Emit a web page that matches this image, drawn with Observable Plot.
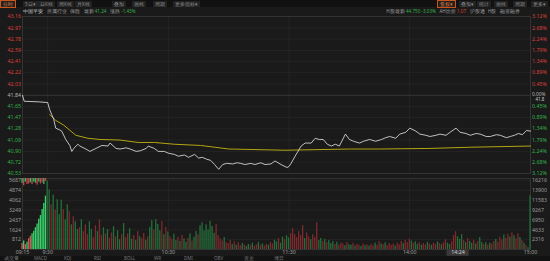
<!DOCTYPE html>
<html><head><meta charset="utf-8">
<script src="https://cdn.jsdelivr.net/npm/d3@7"></script>
<script src="https://cdn.jsdelivr.net/npm/@observablehq/plot@0.6"></script>
<style>
html,body{margin:0;padding:0;background:#1a1a1a;width:550px;height:261px;overflow:hidden;font-family:"Noto Sans",sans-serif;}
.abs{position:absolute;}
#bar{left:0;top:0;width:550px;height:7px;background:#111;}
.btn{position:absolute;top:0.5px;height:6px;line-height:6px;font-size:4.6px;color:#8a8a8a;background:#222;padding:0 2px;white-space:nowrap;}
.btn.on{border:0.6px solid #c8561c;color:#e07a3a;top:0;}
.info{top:7.5px;height:6px;font-size:4.6px;line-height:6px;color:#9a9a9a;white-space:nowrap;display:flex;gap:3.5px;}
#foot{left:0;top:256px;width:550px;height:5px;background:#121212;font-size:4.5px;line-height:5px;color:#777;white-space:nowrap;}
#foot span{position:absolute;top:0;}
svg{overflow:visible;}
</style></head>
<body>
<div id="bar" class="abs"></div>
<div id="infoL" class="abs info" style="left:23px;"></div>
<div id="infoR" class="abs info" style="right:30px;"></div>
<div id="pricePanel" class="abs" style="left:0;top:14px;"></div>
<div id="volPanel" class="abs" style="left:0;top:177px;"></div>
<div id="foot" class="abs"></div>
<script>
// ---------- data ----------
const stockName = "中国平安";
const prevClose = 41.84;
const priceTickValues = [43.16, 42.97, 42.78, 42.59, 42.41, 42.22, 42.03, 41.84, 41.65, 41.47, 41.28, 41.09, 40.90, 40.72, 40.53];
const pctTickLabels = ["3.12%","2.68%","2.24%","1.79%","1.34%","0.89%","0.45%","0.00%","0.45%","0.89%","1.34%","1.79%","2.24%","2.68%","3.12%"];

const priceTimes = ["09:15","09:16","09:25","09:29","09:30","09:31","09:32","09:33","09:34","09:36","09:37","09:39","09:41","09:42","09:43","09:45","09:46","09:49","09:51","09:54","09:57","10:00","10:01","10:04","10:06","10:09","10:11","10:14","10:16","10:19","10:20","10:23","10:25","10:28","10:30","10:33","10:35","10:38","10:40","10:43","10:45","10:47","10:49","10:51","10:53","10:55","10:57","10:59","11:02","11:04","11:06","11:08","11:11","11:13","11:16","11:18","11:21","11:23","11:26","11:29","11:30","13:01","13:03","13:06","13:08","13:11","13:13","13:15","13:17","13:19","13:21","13:23","13:25","13:28","13:30","13:32","13:35","13:37","13:40","13:43","13:46","13:48","13:50","13:53","13:55","13:58","14:00","14:03","14:05","14:08","14:10","14:13","14:15","14:18","14:20","14:23","14:25","14:28","14:30","14:33","14:35","14:38","14:40","14:43","14:45","14:48","14:50","14:52","14:54","14:56","14:58","15:00"];
const priceValues = [41.84,41.74,41.73,41.72,41.72,41.60,41.52,41.44,41.29,41.26,41.24,41.10,41.00,40.90,40.95,41.02,40.99,40.94,40.90,40.95,41.00,40.99,41.04,40.95,40.94,40.96,40.94,40.90,40.91,40.95,40.99,40.95,40.90,40.90,40.87,40.85,40.82,40.84,40.80,40.85,40.79,40.80,40.77,40.75,40.68,40.60,40.68,40.70,40.69,40.71,40.70,40.68,40.70,40.68,40.71,40.68,40.69,40.74,40.68,40.63,40.65,40.70,40.82,40.99,41.04,41.04,41.12,41.10,41.10,41.02,40.99,41.02,40.99,41.19,41.10,41.07,41.04,41.07,41.10,41.07,41.10,41.13,41.15,41.12,41.19,41.22,41.29,41.24,41.19,41.17,41.15,41.17,41.19,41.17,41.22,41.29,41.22,41.20,41.17,41.20,41.19,41.15,41.15,41.18,41.17,41.13,41.15,41.17,41.20,41.18,41.25,41.24];

const avgTimes = ["09:31","09:34","09:38","09:44","09:50","09:56","10:06","10:15","10:23","10:33","10:46","10:53","11:00","11:28","13:30","13:45","14:10","14:30","15:00"];
const avgValues = [41.52,41.42,41.34,41.17,41.12,41.10,41.09,41.05,41.05,41.02,41.00,40.97,40.94,40.92,40.94,40.94,40.95,40.97,40.99];

// volume (shares x100), one per minute: morning 09:30..11:30, afternoon 13:01..15:00
const volMorning = [16100,14000,10500,12800,9300,11700,8200,11600,9400,7000,
 10500,8900,5800,7700,6500,4700,5100,7000,4200,5800,
 3500,6500,4700,2800,5600,4200,7000,3300,5100,3700,
 4700,2600,3900,5400,3000,4400,2300,3500,6100,2800,
 3700,4900,2400,3300,2100,4200,3000,2600,3800,2200,
 3000,5200,6800,4600,7000,5900,4400,6600,3500,5200,
 4100,3000,2400,3600,2100,2800,1900,3300,2500,1700,
 2600,3700,2000,2900,4200,3500,5600,6300,4400,5800,
 4600,6600,5400,3800,5900,3300,2500,2000,2800,1600,
 1400,2100,1200,1800,1000,1600,900,1400,1100,700,
 1200,900,1500,800,1100,1700,1000,1300,800,1200,
 1000,1600,1300,2200,1800,2600,1500,2900,2300,3200,
 2700];
const volAfternoon = [3700,4900,3500,2800,4200,3300,5600,2600,3900,3000,
 2300,3500,2800,6300,2100,2600,1900,2400,1600,2100,
 1400,1900,1200,1700,1000,1500,1300,900,1600,1100,
 1000,1400,800,1200,1000,700,1300,900,1100,800,
 1200,900,1500,1000,1800,1300,1100,1600,900,1400,
 1000,1300,800,1500,1100,1900,1400,2100,1600,2400,
 2000,1500,1800,1200,1600,1000,1400,1100,1700,1300,
 1000,1500,1200,1800,1400,1100,1600,2300,1500,1200,
 1800,3300,4200,3000,2400,3500,2100,1600,2600,1900,
 1500,2200,1300,1900,2800,1700,1200,1600,1000,1500,
 1300,1900,2400,1700,2900,2300,3400,2600,3600,2900,
 3900,3200,2500,3700,2800,2100,1500,900,400,12600];
const dirMorning = "ggrgrgggrg"+"grgrggrgrr"+"rggrrgrrgr"+"grrgrggrgr"+"rggrgrgrrg"+"rggrgggrgr"+"grrggrgrgg"+"rgrggrgggg"+"ggggrrrrgr"+"rrgrgrrgrg"+"grgrrgrgrr"+"grrggrggrg"+"g";
const dirAfternoon = "rrrrrrrgrr"+"grrrggrgrg"+"ggrgrrrgrg"+"grgrrgrgrg"+"rrgrrgrgrr"+"rrgrrrgrrr"+"grggrgrrgr"+"grrgrgrrgg"+"rrrgggrgrg"+"grgrggrgrg"+"rrgrrrgrrg"+"rgrrgrgrgg";

// call auction 09:15..09:29 (left axis units)
const auctionTimes = ["09:15","09:16","09:17","09:18","09:19","09:20","09:21","09:22","09:23","09:24","09:25","09:26","09:27","09:28","09:29"];
const auctionMatched = [500,700,400,600,900,1100,1300,1500,1800,2100,2500,2800,3300,3800,4400];
const auctionMatchedDir = "rgrgrrggggggggg";
const auctionUnmatched = [400,600,300,500,450,350,500,300,400,550,300,450,350,500,250];
const auctionUnmatchedDir = "grgrrgrggrgrrgr";

const volTicksRight = [2316, 4633, 6950, 9267, 11583, 13900, 16216];
const volTicksLeft = [812, 1624, 2437, 3249, 4062, 4874, 5687];
const timeLabelTimes = ["09:15","09:30","10:30","11:30","14:00","15:00"];
const timeLabelTexts = ["09:15","9:30","10:30","11:30","14:00","15:00"];
const gridTimes = ["09:30","10:30","11:30","14:00"];
const cursorTime = "14:24";

const toolbarLeft = ["分时","5日▾","日K线","周K线","月K线","叠加","画线","周期","更多指标▾"];
const toolbarLeftX = [0,23,38,57,75,112,132,153,173];
const toolbarRight = ["复权▾","叠加▾","统计","画线","周期","更多▾"];
const toolbarRightX = [437,459,477,494,513,531];
const footTabs = ["成交量","MACD","KDJ","RSI","BOLL","WR","DMI","OBV","资金","博弈"];

// ---------- helpers ----------
function idx(t){
  const [h,m] = t.split(":").map(Number);
  const mins = h*60+m;
  if (mins < 570) return (mins-570)*12.5/15;
  if (mins <= 690) return mins-570;
  return mins-780+120;
}
const RED = "#d9403c", GREEN = "#34b04a", GREY = "#b8b8b8";
const W = 550, ML = 22, MR = 20;

// ---------- header ----------
const bar = document.getElementById("bar");
toolbarLeft.forEach((t,i)=>{const s=document.createElement("div");s.className="btn"+(i===0?" on":"");s.style.left=toolbarLeftX[i]+"px";s.textContent=t;bar.appendChild(s);});
toolbarRight.forEach((t,i)=>{const s=document.createElement("div");s.className="btn"+(i===0?" on":"");s.style.left=toolbarRightX[i]+"px";s.textContent=t;bar.appendChild(s);});
const lastPrice = priceValues[priceValues.length-1];
const chg = (lastPrice/prevClose-1)*100;
const infoLeft = [[stockName, "#c8c8c8"],["所属行业","#9a9a9a"],["保险","#9a9a9a"],["最新 <b style='font-weight:normal;color:"+GREEN+"'>"+lastPrice.toFixed(2)+"</b>","#9a9a9a"],["涨跌 <b style='font-weight:normal;color:"+GREEN+"'>"+chg.toFixed(2)+"%</b>","#9a9a9a"]];
const infoRight = [["H股最新 <b style='font-weight:normal;color:"+GREEN+"'>44.750 -3.03%</b>","#9a9a9a"],["AH比价 <b style='font-weight:normal;color:"+RED+"'>1.07</b>","#9a9a9a"],["沪股通","#9a9a9a"],["H股","#9a9a9a"],["融资融券","#9a9a9a"]];
function fill(id, items){const el=document.getElementById(id);items.forEach(([h,c])=>{const s=document.createElement("span");s.style.color=c;s.innerHTML=h;el.appendChild(s);});}
fill("infoL", infoLeft); fill("infoR", infoRight);
const foot = document.getElementById("foot");
footTabs.forEach((t,i)=>{const s=document.createElement("span");s.style.left=(4+i*30)+"px";s.textContent=t;foot.appendChild(s);});

// ---------- price panel ----------
const priceRows = priceTimes.map((t,i)=>({x:idx(t), v:priceValues[i]}));
const avgRows = avgTimes.map((t,i)=>({x:idx(t), v:avgValues[i]}));
const tickRows = priceTickValues.map((v,i)=>({v, label:v.toFixed(2), pct:pctTickLabels[i],
  c: v > prevClose + 0.001 ? RED : (v < prevClose - 0.001 ? GREEN : GREY),
  dy: Math.abs(v-prevClose) < 0.001 ? -1 : 0}));
const gridIdx = gridTimes.map(idx);

const pricePlot = Plot.plot({
  width: W, height: 163, marginTop: 2, marginBottom: 4, marginLeft: ML, marginRight: MR,
  x: {domain: [-12.5, 240], axis: null},
  y: {domain: [40.53, 43.16], axis: null},
  style: {background: "transparent", fontFamily: "Noto Sans, sans-serif", overflow: "visible"},
  marks: [
    Plot.ruleY(priceTickValues, {stroke: "#282828", strokeWidth: 0.7}),
    Plot.ruleX(gridIdx, {stroke: "#282828", strokeWidth: 0.7}),
    Plot.ruleY([prevClose], {stroke: "#3a3a3a", strokeWidth: 0.8}),
    Plot.frame({stroke: "#333"}),
    Plot.line(avgRows, {x: "x", y: "v", stroke: "#b3a512", strokeWidth: 1}),
    Plot.line(priceRows, {x: "x", y: "v", stroke: "#d2d2d2", strokeWidth: 0.9}),
    Plot.text(tickRows, {y: "v", text: "label", frameAnchor: "left", textAnchor: "end", dx: -1.5, fill: "c", fontSize: 5.3}),
    Plot.text(tickRows.filter(d => d.dy === 0), {y: "v", text: "pct", frameAnchor: "right", textAnchor: "start", dx: 1.5, fill: "c", fontSize: 5.3}),
    Plot.text(tickRows.filter(d => d.dy !== 0), {y: "v", text: "pct", frameAnchor: "right", textAnchor: "start", dx: 1.5, dy: -1.2, fill: "c", fontSize: 4.8}),
    Plot.text([prevClose], {y: d => d, text: d => "41.8", frameAnchor: "right", textAnchor: "start", dx: 5, dy: 4.6, fill: "#cfcfcf", fontSize: 4.4})
  ]
});
document.getElementById("pricePanel").appendChild(pricePlot);

// ---------- volume panel ----------
const ratio = volTicksRight[6] / volTicksLeft[6];
const UP = "#7e2a2e", DOWN = "#24703a";
const volRows = [
  ...volMorning.map((v,i)=>({x:i, v, c: dirMorning[i]==="r" ? UP : DOWN})),
  ...volAfternoon.map((v,i)=>({x:121+i, v, c: dirAfternoon[i]==="r" ? UP : DOWN}))
];
const aucRows = auctionTimes.map((t,i)=>({x:idx(t), v:auctionMatched[i]*ratio, c: auctionMatchedDir[i]==="r" ? "#e0505a" : "#3ad06a"}));
const aucTop = 16700;
const aucHang = auctionTimes.map((t,i)=>({x:idx(t), v:auctionUnmatched[i]*ratio, c: auctionUnmatchedDir[i]==="r" ? "#c94450" : "#2fbf5e"}));
const timeRows = timeLabelTimes.map((t,i)=>({x:idx(t), text:timeLabelTexts[i]}));
const cur = idx(cursorTime);

const volPlot = Plot.plot({
  width: W, height: 84, marginTop: 1, marginBottom: 12, marginLeft: ML, marginRight: MR,
  x: {domain: [-12.5, 240], axis: null},
  y: {domain: [0, 16700], axis: null},
  style: {background: "transparent", fontFamily: "Noto Sans, sans-serif", overflow: "visible"},
  marks: [
    Plot.ruleY(volTicksRight, {stroke: "#282828", strokeWidth: 0.7}),
    Plot.ruleX(gridIdx, {stroke: "#282828", strokeWidth: 0.7}),
    Plot.frame({stroke: "#333"}),
    Plot.rect(aucRows, {x1: d => d.x - 0.33, x2: d => d.x + 0.33, y1: d => 0, y2: "v", fill: "c"}),
    Plot.rect(aucHang, {x1: d => d.x - 0.33, x2: d => d.x + 0.33, y1: d => aucTop, y2: d => aucTop - d.v, fill: "c"}),
    Plot.rect(volRows, {x1: d => d.x - 0.32, x2: d => d.x + 0.32, y1: d => 0, y2: "v", fill: "c"}),
    Plot.text(volTicksLeft, {y: d => d*ratio, text: d => String(d), frameAnchor: "left", textAnchor: "end", dx: -1.5, fill: "#9a9a9a", fontSize: 5.3}),
    Plot.text(volTicksRight, {y: d => d, text: d => String(d), frameAnchor: "right", textAnchor: "start", dx: 1.5, fill: "#9a9a9a", fontSize: 5.3}),
    Plot.rect([cur], {x1: d => d - 5.5, x2: d => d + 5.5, y1: d => -240, y2: d => -1600, fill: "#3a3a3a"}),
    Plot.text(timeRows, {x: "x", text: "text", frameAnchor: "bottom", dy: 4.5, fill: "#9a9a9a", fontSize: 5.3}),
    Plot.text([cur], {x: d => d, text: d => cursorTime, frameAnchor: "bottom", dy: 4.5, fill: "#d0d0d0", fontSize: 5.3})
  ]
});
document.getElementById("volPanel").appendChild(volPlot);
</script>
</body></html>
